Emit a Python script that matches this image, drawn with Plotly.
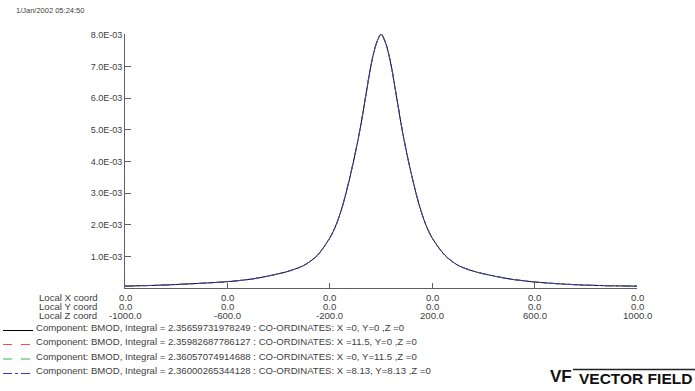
import plotly.graph_objects as go

# ---------------- data ----------------
z_mm = [-1000, -900, -800, -700, -600, -500, -400, -350, -300, -250, -200, -175, -150, -125,
        -100, -80, -60, -40, -20, 0, 20, 40, 60, 80, 100, 125, 150, 175, 200, 250, 300,
        350, 400, 500, 600, 700, 800, 900, 1000]

bmod_x0_y0 = [0.06e-3, 0.08e-3, 0.11e-3, 0.15e-3, 0.20e-3, 0.29e-3, 0.45e-3, 0.56e-3, 0.72e-3,
              1.02e-3, 1.58e-3, 2.00e-3, 2.60e-3, 3.38e-3, 4.28e-3, 5.10e-3, 6.05e-3, 7.00e-3,
              7.68e-3, 8.02e-3, 7.70e-3, 7.02e-3, 6.08e-3, 5.12e-3, 4.28e-3, 3.38e-3, 2.60e-3,
              2.00e-3, 1.58e-3, 1.03e-3, 0.72e-3, 0.56e-3, 0.45e-3, 0.29e-3, 0.19e-3, 0.13e-3,
              0.09e-3, 0.07e-3, 0.06e-3]
bmod_x115_y0 = [0.06e-3, 0.08e-3, 0.11e-3, 0.15e-3, 0.20e-3, 0.29e-3, 0.45e-3, 0.56e-3, 0.72e-3,
                1.02e-3, 1.58e-3, 2.00e-3, 2.61e-3, 3.39e-3, 4.29e-3, 5.11e-3, 6.06e-3, 7.01e-3,
                7.69e-3, 8.04e-3, 7.71e-3, 7.03e-3, 6.09e-3, 5.13e-3, 4.29e-3, 3.39e-3, 2.61e-3,
                2.00e-3, 1.58e-3, 1.03e-3, 0.72e-3, 0.56e-3, 0.45e-3, 0.29e-3, 0.19e-3, 0.13e-3,
                0.09e-3, 0.07e-3, 0.06e-3]
bmod_x0_y115 = [0.06e-3, 0.08e-3, 0.11e-3, 0.15e-3, 0.20e-3, 0.29e-3, 0.45e-3, 0.56e-3, 0.72e-3,
                1.02e-3, 1.58e-3, 2.00e-3, 2.61e-3, 3.39e-3, 4.29e-3, 5.11e-3, 6.06e-3, 7.01e-3,
                7.69e-3, 8.04e-3, 7.71e-3, 7.03e-3, 6.09e-3, 5.13e-3, 4.29e-3, 3.39e-3, 2.61e-3,
                2.00e-3, 1.58e-3, 1.03e-3, 0.72e-3, 0.56e-3, 0.45e-3, 0.29e-3, 0.19e-3, 0.13e-3,
                0.09e-3, 0.07e-3, 0.06e-3]
bmod_x813_y813 = [0.06e-3, 0.08e-3, 0.11e-3, 0.15e-3, 0.20e-3, 0.29e-3, 0.45e-3, 0.56e-3, 0.72e-3,
                  1.02e-3, 1.58e-3, 2.00e-3, 2.60e-3, 3.38e-3, 4.28e-3, 5.10e-3, 6.05e-3, 7.00e-3,
                  7.69e-3, 8.03e-3, 7.70e-3, 7.02e-3, 6.08e-3, 5.12e-3, 4.28e-3, 3.38e-3, 2.60e-3,
                  2.00e-3, 1.58e-3, 1.03e-3, 0.72e-3, 0.56e-3, 0.45e-3, 0.29e-3, 0.19e-3, 0.13e-3,
                  0.09e-3, 0.07e-3, 0.06e-3]

series_labels = [
    "Component: BMOD, Integral = 2.35659731978249 : CO-ORDINATES: X =0, Y=0 ,Z =0",
    "Component: BMOD, Integral = 2.35982687786127 : CO-ORDINATES: X =11.5, Y=0 ,Z =0",
    "Component: BMOD, Integral = 2.36057074914688 : CO-ORDINATES: X =0, Y=11.5 ,Z =0",
    "Component: BMOD, Integral = 2.36000265344128 : CO-ORDINATES: X =8.13, Y=8.13 ,Z =0",
]
series_values = [bmod_x0_y0, bmod_x115_y0, bmod_x0_y115, bmod_x813_y813]

y_tick_vals = [1e-3, 2e-3, 3e-3, 4e-3, 5e-3, 6e-3, 7e-3, 8e-3]
y_tick_text = ["1.0E-03", "2.0E-03", "3.0E-03", "4.0E-03", "5.0E-03", "6.0E-03", "7.0E-03", "8.0E-03"]

x_tick_vals = [-1000, -600, -200, 200, 600, 1000]
local_x_coord = ["0.0", "0.0", "0.0", "0.0", "0.0", "0.0"]
local_y_coord = ["0.0", "0.0", "0.0", "0.0", "0.0", "0.0"]
local_z_coord = ["-1000.0", "-600.0", "-200.0", "200.0", "600.0", "1000.0"]
coord_row_names = ["Local X coord", "Local Y coord", "Local Z coord"]

timestamp = "1/Jan/2002 05:24:50"

# ---------------- style ----------------
colors = ["#000000", "#ff4a4a", "#3cb83c", "#3535c8"]
dashes = ["solid", "dash", "dash", "dashdot"]
TXT = "#404040"
AX = "#606060"
FONT = "Liberation Sans, Arial, sans-serif"
FS = 9.6

W, H = 695, 391
ML, MR, MT, MB = 125, 58, 34, 103
PW, PH = W - ML - MR, H - MT - MB


def px(xp):
    return (xp - ML) / PW


def py(yp):
    return (H - MB - yp) / PH


fig = go.Figure()
for vals, lab, c, d in zip(series_values, series_labels, colors, dashes):
    fig.add_trace(go.Scatter(x=z_mm, y=vals, mode="lines", name=lab,
                             line=dict(color=c, width=1, dash=d, shape="spline", smoothing=0.8),
                             showlegend=False))

annotations = []
shapes = []

# bottom coordinate rows
row_y = [297.5, 306.5, 315.5]
for rname, ry, texts in zip(coord_row_names, row_y, [local_x_coord, local_y_coord, local_z_coord]):
    annotations.append(dict(text=rname, xref="paper", yref="paper", x=px(37), y=py(ry),
                            xanchor="left", yanchor="middle", showarrow=False,
                            font=dict(size=FS, color=TXT, family=FONT)))
    for xv, t in zip(x_tick_vals, texts):
        annotations.append(dict(text=t, xref="x", yref="paper", x=xv, y=py(ry),
                                xanchor="center", yanchor="middle", showarrow=False,
                                font=dict(size=FS, color=TXT, family=FONT)))

# manual legend
leg_y = [327.5, 341.5, 356, 370.5]
for lab, c, d, ly in zip(series_labels, colors, dashes, leg_y):
    annotations.append(dict(text=lab, xref="paper", yref="paper", x=px(34), y=py(ly),
                            xanchor="left", yanchor="middle", showarrow=False,
                            font=dict(size=FS, color=TXT, family=FONT)))
    shapes.append(dict(type="line", xref="paper", yref="paper",
                       x0=px(3), x1=px(33), y0=py(ly + 3), y1=py(ly + 3),
                       line=dict(color=c, width=1, dash=d)))

# timestamp
annotations.append(dict(text=timestamp, xref="paper", yref="paper", x=px(14), y=py(11),
                        xanchor="left", yanchor="middle", showarrow=False,
                        font=dict(size=7.5, color=TXT, family=FONT)))

# logo
annotations.append(dict(text="<b>VF</b>", xref="paper", yref="paper", x=px(548), y=py(376.5),
                        xanchor="left", yanchor="middle", showarrow=False,
                        font=dict(size=17, color="#111111", family=FONT)))
annotations.append(dict(text="<b>VECTOR FIELD</b>", xref="paper", yref="paper", x=px(577), y=py(378),
                        xanchor="left", yanchor="middle", showarrow=False,
                        font=dict(size=15.5, color="#111111", family=FONT)))
shapes.append(dict(type="line", xref="paper", yref="paper",
                   x0=px(573), x1=px(695), y0=py(369.5), y1=py(369.5),
                   line=dict(color="#222222", width=1.5)))

fig.update_layout(
    width=W, height=H,
    margin=dict(l=ML, r=MR, t=MT, b=MB, pad=0),
    paper_bgcolor="white", plot_bgcolor="white",
    font=dict(family=FONT, size=9, color=TXT),
    showlegend=False,
    annotations=annotations,
    shapes=shapes,
    xaxis=dict(range=[-1000, 1000], showgrid=False, zeroline=False, showline=True,
               linecolor=AX, linewidth=1, ticks="inside", ticklen=5, tickcolor=AX,
               tickvals=x_tick_vals, showticklabels=False, fixedrange=True),
    yaxis=dict(range=[0, 8.03e-3], showgrid=False, zeroline=False, showline=True,
               linecolor=AX, linewidth=1, ticks="inside", ticklen=6, tickcolor=AX,
               tickvals=y_tick_vals, ticktext=y_tick_text,
               tickfont=dict(size=9, color=TXT, family=FONT), fixedrange=True),
)

fig.write_html("out.html", config={"displayModeBar": False})
